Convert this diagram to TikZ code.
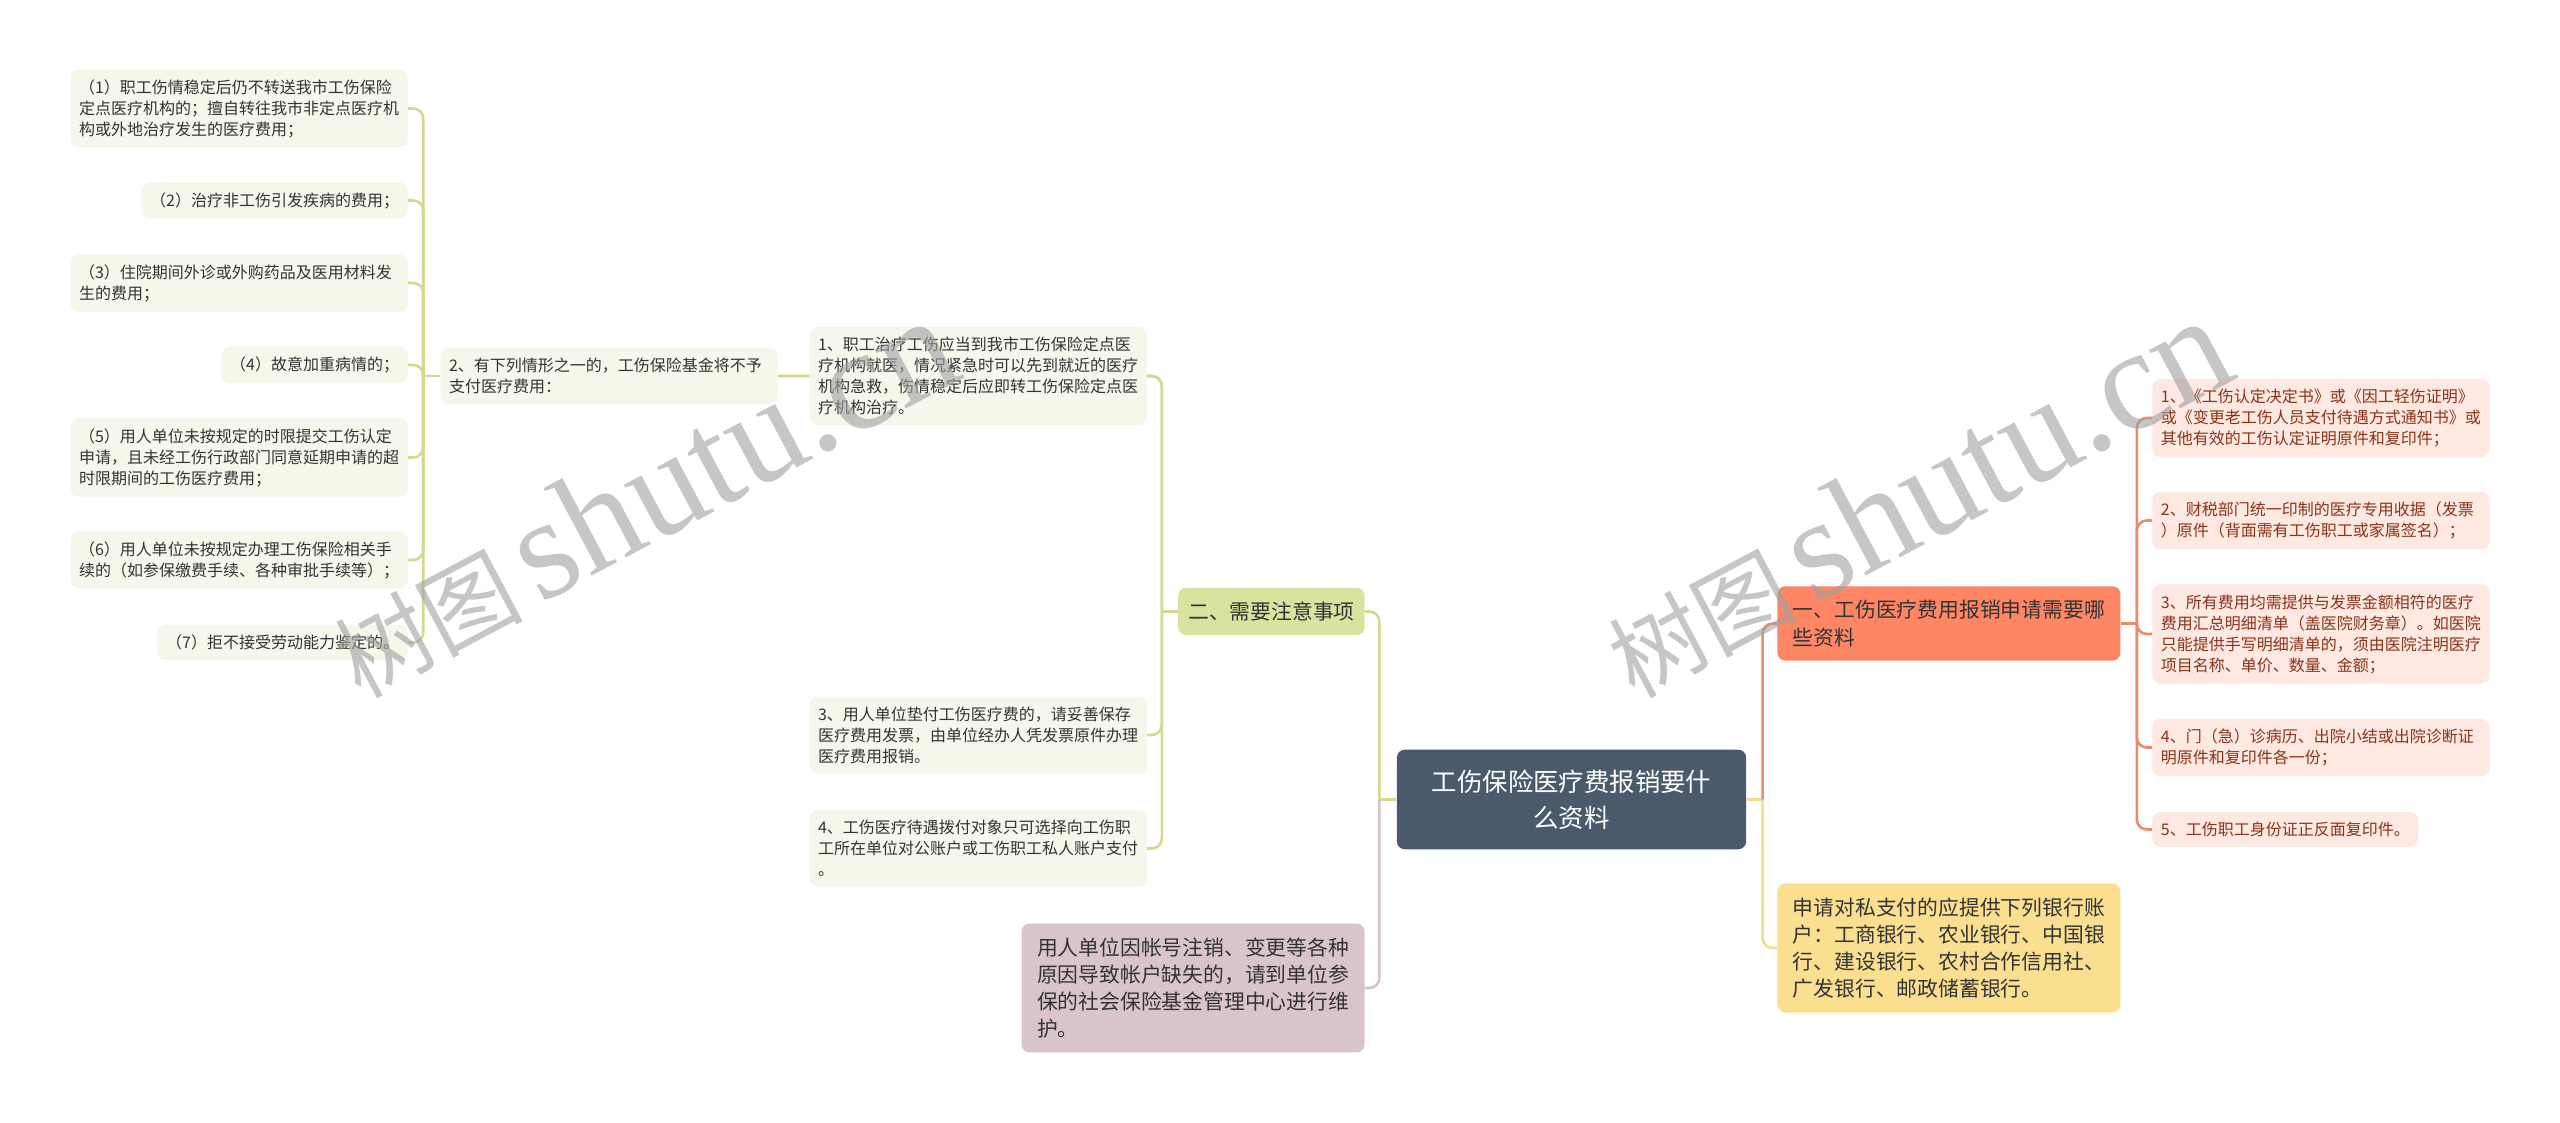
\documentclass[tikz,border=0pt]{standalone}
\usepackage{fontspec}
\setmainfont{Noto Sans CJK SC}
\newfontfamily\wmlatin{Liberation Serif}
\usetikzlibrary{backgrounds}

\definecolor{rootfill}{HTML}{4A5A6A}
\definecolor{darktext}{HTML}{333333}
\definecolor{greenfill}{HTML}{D6E4A0}
\definecolor{greenline}{HTML}{CADD90}
\definecolor{greenleaf}{HTML}{F4F7E9}
\definecolor{coralfill}{HTML}{FD8765}
\definecolor{coralline}{HTML}{EC8A6C}
\definecolor{pinkleaf}{HTML}{FDE8E2}
\definecolor{pinktext}{HTML}{8A3318}
\definecolor{mauvefill}{HTML}{D9C4CE}
\definecolor{mauveline}{HTML}{D5C2CB}
\definecolor{yellowfill}{HTML}{F9DF8F}
\definecolor{yellowline}{HTML}{F4DB8E}
\definecolor{wmgray}{HTML}{A0A0A0}

\tikzset{
  leaf/.style={rounded corners=4pt, align=left, inner xsep=4.25pt, inner ysep=5pt,
    font=\fontsize{8}{10.5}\selectfont},
  wide/.style={text width=160pt},
  gleaf/.style={leaf, fill=greenleaf, text=darktext},
  pleaf/.style={leaf, fill=pinkleaf, text=pinktext},
  bigbox/.style={rounded corners=4pt, align=left, text width=156pt, inner xsep=7.75pt,
    inner ysep=7pt, font=\fontsize{10.4}{13.6}\selectfont, text=darktext},
  conn/.style={line width=1.3pt, rounded corners=5pt},
  wm/.style={text=wmgray, opacity=0.6, inner sep=0pt}
}

\begin{document}
\begin{tikzpicture}[x=0.5pt, y=-0.5pt]
\useasboundingbox (0,0) rectangle (2560,1123);

\node[rounded corners=4pt, fill=rootfill, text=white, align=center, inner xsep=17.5pt,
  inner ysep=10pt, font=\fontsize{12.7}{18}\selectfont] (R) at (1571.5,799.5)
  {工伤保险医疗费报销要什\\么资料};

\node[rounded corners=4pt, fill=greenfill, text=darktext, inner xsep=5pt, inner ysep=7pt,
  font=\fontsize{10.4}{13.6}\selectfont, anchor=east] (N2) at (1365,611.5) {二、需要注意事项};
\node[bigbox, fill=mauvefill, anchor=east] (P) at (1365,988)
  {用人单位因帐号注销、变更等各种\\原因导致帐户缺失的，请到单位参\\保的社会保险基金管理中心进行维\\护。};
\node[bigbox, fill=coralfill, anchor=west] (N1) at (1777,623.5)
  {一、工伤医疗费用报销申请需要哪\\些资料};
\node[bigbox, fill=yellowfill, anchor=west] (Y) at (1777,948)
  {申请对私支付的应提供下列银行账\\户：工商银行、农业银行、中国银\\行、建设银行、农村合作信用社、\\广发银行、邮政储蓄银行。};

\node[gleaf, wide, anchor=east] (B1) at (1147,376)
  {1、职工治疗工伤应当到我市工伤保险定点医\\疗机构就医，情况紧急时可以先到就近的医疗\\机构急救，伤情稳定后应即转工伤保险定点医\\疗机构治疗。};
\node[gleaf, wide, anchor=east] (B2) at (778,376)
  {2、有下列情形之一的，工伤保险基金将不予\\支付医疗费用：};
\node[gleaf, wide, anchor=east] (B3) at (1147,735)
  {3、用人单位垫付工伤医疗费的，请妥善保存\\医疗费用发票，由单位经办人凭发票原件办理\\医疗费用报销。};
\node[gleaf, wide, anchor=east] (B4) at (1147,848.5)
  {4、工伤医疗待遇拨付对象只可选择向工伤职\\工所在单位对公账户或工伤职工私人账户支付\\。};

\node[gleaf, wide, anchor=east] (C1) at (408,108.5)
  {（1）职工伤情稳定后仍不转送我市工伤保险\\定点医疗机构的；擅自转往我市非定点医疗机\\构或外地治疗发生的医疗费用；};
\node[gleaf, anchor=east] (C2) at (408,200.5) {（2）治疗非工伤引发疾病的费用；};
\node[gleaf, wide, anchor=east] (C3) at (408,283)
  {（3）住院期间外诊或外购药品及医用材料发\\生的费用；};
\node[gleaf, anchor=east] (C4) at (408,365) {（4）故意加重病情的；};
\node[gleaf, wide, anchor=east] (C5) at (408,457.5)
  {（5）用人单位未按规定的时限提交工伤认定\\申请，且未经工伤行政部门同意延期申请的超\\时限期间的工伤医疗费用；};
\node[gleaf, wide, anchor=east] (C6) at (408,560)
  {（6）用人单位未按规定办理工伤保险相关手\\续的（如参保缴费手续、各种审批手续等）；};
\node[gleaf, anchor=east] (C7) at (408,642.5) {（7）拒不接受劳动能力鉴定的。};

\node[pleaf, wide, anchor=west] (A1) at (2152,418)
  {1、《工伤认定决定书》或《因工轻伤证明》\\或《变更老工伤人员支付待遇方式通知书》或\\其他有效的工伤认定证明原件和复印件；};
\node[pleaf, wide, anchor=west] (A2) at (2152,520.5)
  {2、财税部门统一印制的医疗专用收据（发票\\）原件（背面需有工伤职工或家属签名）；};
\node[pleaf, wide, anchor=west] (A3) at (2152,634)
  {3、所有费用均需提供与发票金额相符的医疗\\费用汇总明细清单（盖医院财务章）。如医院\\只能提供手写明细清单的，须由医院注明医疗\\项目名称、单价、数量、金额；};
\node[pleaf, wide, anchor=west] (A4) at (2152,747.5)
  {4、门（急）诊病历、出院小结或出院诊断证\\明原件和复印件各一份；};
\node[pleaf, anchor=west] (A5) at (2152,829.5) {5、工伤职工身份证正反面复印件。};

\coordinate (Rl) at ([xshift=-8.5pt]R.west);
\coordinate (Rr) at ([xshift=8pt]R.east);
\coordinate (N2l) at ([xshift=-8pt]N2.west);
\coordinate (N1r) at ([xshift=8pt]N1.east);
\coordinate (B2l) at ([xshift=-8.5pt]B2.west);

\begin{scope}[on background layer]
\fill[white] (0,0) rectangle (2560,1123);
\draw[conn, greenline] (R.west) -- (Rl);
\draw[conn, greenline] (Rl) |- (N2.east);
\draw[conn, mauveline] (Rl) |- (P.east);
\draw[conn, yellowline] (R.east) -- (Rr);
\draw[conn, coralline] (Rr) |- (N1.west);
\draw[conn, yellowline] (Rr) |- (Y.west);
\draw[conn, greenline] (N2.west) -- (N2l);
\foreach \n in {B1,B2,B3,B4}
  \draw[conn, greenline] (N2l) |- (\n.east);
\draw[conn, greenline] (B2.west) -- (B2l);
\foreach \n in {C1,C2,C3,C4,C5,C6,C7}
  \draw[conn, greenline] (B2l) |- (\n.east);
\draw[conn, coralline] (N1.east) -- (N1r);
\foreach \n in {A1,A2,A3,A4,A5}
  \draw[conn, coralline] (N1r) |- (\n.west);
\end{scope}

\node[wm, anchor=base west, rotate=28] (W1) at (360,700)
  {\fontsize{47}{50}\selectfont 树图\,{\wmlatin\fontsize{72}{74}\selectfont shutu.cn}};
\node[wm, anchor=base west, rotate=28] (W2) at (1634,700)
  {\fontsize{47}{50}\selectfont 树图\,{\wmlatin\fontsize{72}{74}\selectfont shutu.cn}};
\end{tikzpicture}
\end{document}
